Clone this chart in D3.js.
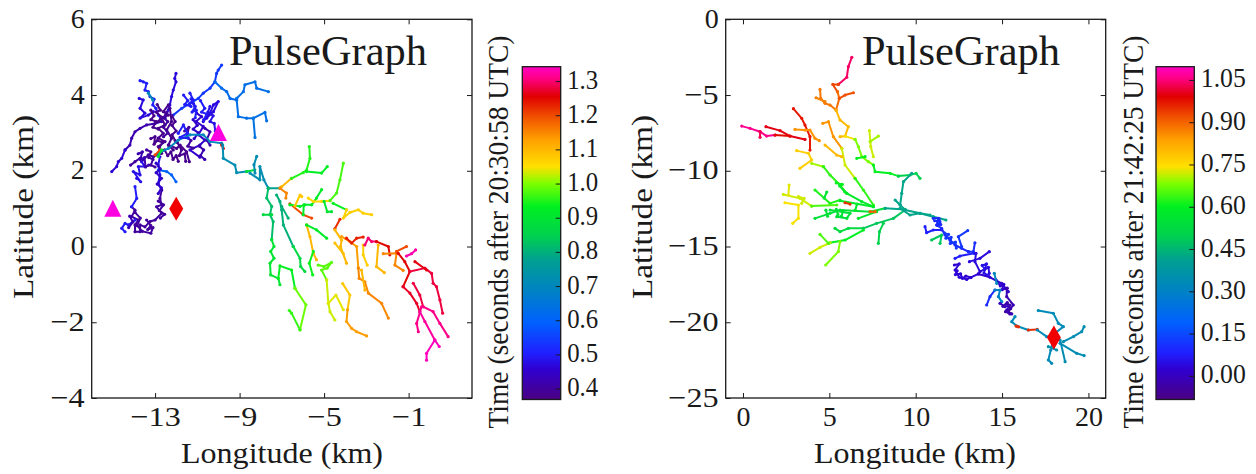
<!DOCTYPE html>
<html><head><meta charset="utf-8">
<script src="https://cdnjs.cloudflare.com/ajax/libs/d3/7.8.5/d3.min.js"></script>
<style>html,body{margin:0;padding:0;background:#fff}svg{display:block}</style></head>
<body><svg id="chart" width="1256" height="474"></svg>
<script>
// each branch: [time, lon, lat, lon, lat, ...]
const leftBranches = [
[.5,-12.69,3.34,-12.85,3.47,-12.96,3.65,-13.11,3.74,-13.05,3.89,-13.24,3.96,-13.32,4.09,-13.48,4.13,-13.40,4.31,-13.56,4.35,-13.71,4.38],
[.47,-13.75,3.91,-13.56,3.87,-13.71,3.65,-13.48,3.52,-13.71,3.39,-13.32,3.47,-13.08,3.56],
[.47,-12.53,3.39,-12.37,3.61,-12.30,3.74,-12.22,3.96,-12.14,4.13,-12.01,4.35,-12.07,4.44,-12.01,4.57],
[.42,-12.69,3.30,-13.0,3.25,-13.40,3.21,-13.71,3.12,-13.95,3.03,-14.11,2.86,-14.19,2.68,-14.42,2.55],
[.46,-14.42,2.55,-14.58,2.33,-14.74,2.24,-14.82,2.11,-15.05,1.98],
[.38,-12.37,3.74,-12.61,3.56,-12.37,3.47,-12.69,3.39,-12.53,3.21,-12.85,3.12,-12.61,2.99,-12.85,2.86,-12.53,2.77,-12.85,2.64,-12.69,2.46],
[.38,-12.30,3.65,-12.22,3.30,-12.45,3.08,-12.22,2.86,-12.37,2.68,-12.14,2.55],
[.38,-12.37,2.68,-11.98,2.59,-11.82,2.68,-11.51,2.50,-11.38,2.24],
[.4,-12.77,2.46,-13.08,2.37,-13.32,2.42,-13.56,2.29,-13.71,2.33,-13.95,2.24,-14.16,2.15],
[.48,-13.64,2.24,-13.48,2.11,-13.79,2.11,-13.71,1.89,-14.03,1.98,-13.68,1.71,-13.87,1.80],
[.48,-12.77,2.37,-12.85,2.15,-12.77,1.89,-12.85,1.67,-12.69,1.49],
[.6,-12.85,2.02,-12.45,1.98,-12.22,1.89,-12.01,1.71],
[.4,-12.69,1.49,-12.77,1.27,-12.69,1.10,-12.93,1.05,-12.69,.88,-13.0,.70,-13.24,.66,-13.48,.52,-13.71,.57,-13.71,.39,-13.95,.39,-13.95,.57,-13.79,.70,-14.11,.79,-13.95,.96,-14.11,1.05],
[.5,-14.11,1.05,-13.87,1.27,-13.95,1.58],
[.5,-13.95,.70,-14.27,.57,-14.42,.61,-14.58,.48,-14.42,.39],
[.54,-12.14,3.47,-11.74,3.65,-11.35,3.78,-10.95,3.91,-10.72,4.05,-10.4,4.18,-10.17,4.35,-10.09,4.57,-10.01,4.66,-9.85,4.79],
[.5,-11.35,4.05,-11.19,3.87,-11.35,3.78],
[.45,-11.19,3.78,-11.03,3.52,-10.80,3.43,-11.06,3.30,-10.72,3.17,-10.95,2.95,-10.64,2.81,-10.88,2.68,-11.35,2.55,-10.88,2.36],
[.47,-10.72,3.30,-10.40,3.52,-10.24,3.74,-10.01,3.83,-10.24,3.56,-10.56,3.39],
[.42,-10.64,3.12,-10.40,3.03,-10.56,2.81,-10.40,2.68],
[.38,-13.2,3.6,-13.05,3.45,-13.2,3.35,-12.95,3.3,-13.1,3.15,-12.85,3.1],
[.38,-12.9,3.75,-12.75,3.6,-12.95,3.55,-12.7,3.42,-12.85,3.3],
[.4,-12.45,3.55,-12.6,3.4,-12.4,3.3,-12.6,3.15,-12.4,3.0,-12.6,2.9],
[.38,-12.2,3.45,-12.05,3.3,-12.2,3.2,-12.0,3.05,-12.2,2.95,-12.05,2.8],
[.38,-12.8,2.6,-12.65,2.75,-12.9,2.8,-13.05,2.7,-13.0,2.9,-13.2,2.85],
[.4,-13.4,2.55,-13.2,2.5,-13.3,2.35,-13.1,2.3,-13.2,2.15,-13.0,2.1],
[.42,-13.8,2.45,-13.6,2.5,-13.7,2.3,-13.5,2.35,-13.45,2.1,-13.3,2.15],
[.38,-12.55,2.55,-12.4,2.4,-12.25,2.5,-12.15,2.3,-12.0,2.4,-11.9,2.25],
[.38,-11.95,2.75,-11.75,2.55,-11.85,2.4,-11.6,2.45,-11.55,2.25],
[.4,-11.6,3.05,-11.4,3.15,-11.5,2.9,-11.3,2.8,-11.45,2.65,-11.2,2.6],
[.45,-11.2,3.35,-11.0,3.2,-11.2,3.1,-10.95,3.0,-11.15,2.85],
[.5,-11.3,3.9,-11.1,3.7,-11.25,3.55,-11.05,3.6,-11.1,3.4],
[.5,-10.85,3.85,-10.65,3.65,-10.8,3.55,-10.55,3.5,-10.7,3.35],
[.48,-10.4,3.7,-10.5,3.55,-10.25,3.45,-10.4,3.3,-10.2,3.25,-10.15,3.05],
[.42,-10.9,2.65,-10.7,2.55,-10.85,2.4,-10.65,2.3],
[.5,-11.65,4.0,-11.45,3.85,-11.6,3.75,-11.3,3.7],
[.45,-12.95,2.2,-12.75,2.05,-12.95,1.95,-12.7,1.8,-12.9,1.65,-12.7,1.55,-12.85,1.4],
[.4,-12.85,1.2,-12.6,1.1,-12.8,.95,-12.55,.85,-12.75,.75],
[.4,-13.4,.7,-13.2,.55,-13.35,.45,-13.1,.5,-13.2,.35,-13.6,.4,-13.85,.55,-13.7,.75,-13.95,.9],
[.42,-14.2,.8,-14.05,.65,-14.25,.5],
[.7,-12.85,2.46,-12.37,2.59,-11.90,2.81,-11.35,2.95,-10.72,2.95,-10.40,2.77,-9.85,2.73],
[.72,-13.32,4.05,-13.11,3.87],
[.5,-11.9,2.99,-11.66,3.21,-11.47,2.99,-11.82,2.88,-11.43,2.86],
[1.2,-13.0,2.42,-12.77,2.55],
[.9,-12.85,2.38,-12.69,2.55],
[1.25,-9.85,2.68,-9.77,2.59],
[.62,-10.17,4.35,-9.85,4.18,-9.61,4.09,-9.45,3.91,-9.14,3.87],
[.63,-9.14,3.91,-8.82,4.09,-8.75,4.27,-8.27,4.35,-8.19,4.18,-7.64,4.09],
[.63,-9.14,3.87,-9.06,3.43,-8.67,3.39,-8.35,3.39,-7.80,3.54,-7.72,3.32],
[.64,-8.35,3.39,-8.27,2.88],
[.72,-9.80,2.68,-9.77,2.33,-9.22,2.15,-9.14,1.95,-8.67,1.98],
[.88,-8.67,1.98,-8.28,2.02],
[.72,-8.27,1.94,-8.32,2.16,-8.19,2.38],
[.72,-8.51,1.94,-8.04,1.76,-8.04,2.11,-7.85,1.76,-7.64,1.54],
[.78,-7.64,1.54,-7.09,1.54],
[1.1,-7.01,1.58,-6.54,1.80],
[.95,-6.54,1.80,-5.99,1.95,-5.83,2.02,-5.67,2.33,-5.70,2.64],
[.93,-5.83,1.98,-5.12,1.94,-4.85,2.11],
[.82,-7.64,1.54,-7.72,1.28,-7.48,1.06,-7.56,.84,-7.41,.66,-7.48,.18],
[.9,-7.48,.18,-7.37,0,-7.53,-.13,-7.37,-.31,-7.56,-.44,-7.53,-.75,-7.17,-.84,-7.09,-1.01],
[.87,-7.88,.84,-7.48,.84],
[.93,-7.17,-.84,-7.09,-.51,-6.54,-.62,-6.38,-1.10],
[.99,-6.38,-1.10,-5.86,-1.54,-6.14,-2.20],
[.96,-6.14,-2.20,-6.54,-1.76,-6.65,-1.69],
[.8,-7.25,1.36,-7.09,1.19,-7.01,.97,-6.93,.57,-6.46,0],
[.87,-6.46,0,-6.14,-.31,-6.11,-.53,-5.91,-.66],
[.8,-7.01,1.06,-6.70,.75],
[1.15,-7.09,1.54,-6.78,1.41,-6.81,1.28],
[1.2,-6.62,1.13,-5.99,.84,-5.59,.75],
[1.1,-5.83,.57,-5.67,.26,-5.51,-.18,-5.36,-.35],
[.92,-5.83,.57,-5.36,.44,-4.88,.22],
[.94,-5.51,-.13,-5.70,-.44,-5.54,-.75],
[.98,-5.28,-.49,-5.01,-.53,-4.65,-.42,-4.85,-.57,-5.12,-.62,-4.88,-.88],
[1.03,-4.88,-.88,-4.80,-1.50,-4.72,-1.72,-4.49,-1.94],
[1.04,-4.80,-1.50,-4.44,-1.28,-4.09,-1.67],
[1.08,-4.12,-.98,-3.78,-1.28,-3.89,-1.67],
[1.13,-3.89,-1.67,-3.94,-1.98,-3.70,-2.16,-3.46,-2.25,-2.99,-2.36],
[.92,-5.99,.84,-5.96,1.10,-5.59,1.10,-5.36,1.28,-5.12,1.50],
[.93,-6.62,1.1,-6.14,1.06,-5.91,1.1],
[1.08,-6.38,1.07,-6.14,1.36,-6.06,1.32],
[1.06,-5.75,1.28,-5.51,1.19,-5.12,1.19,-4.72,1.21],
[.97,-4.72,1.21,-4.41,1.41,-4.25,1.76,-4.09,2.20],
[.9,-5.0,1.19,-4.85,.92,-4.65,.92],
[.93,-4.57,1.14,-3.94,.97],
[1.07,-3.94,.97,-4.09,.75,-3.78,.90,-3.38,.97,-3.15,.88,-2.75,.84],
[1.22,-4.49,.47,-4.25,.72],
[1.1,-4.49,.44,-4.17,.17,-4.22,0,-3.94,-.44],
[1.09,-4.49,.09,-4.09,-.19],
[1.13,-4.17,.26,-3.78,.13,-3.46,0,-3.38,-.57],
[1.15,-3.38,-.57,-3.34,-.84,-3.07,-.93,-2.91,-1.23,-2.28,-1.50,-1.96,-1.89],
[1.1,-3.23,-.62,-3.07,-1.15],
[1.07,-3.15,.04,-3.15,-.22,-2.96,-.49],
[1.23,-3.94,.22,-3.70,.09,-3.46,.22,-3.15,.25],
[1.3,-3.07,.04,-2.91,.22,-2.75,.13,-2.52,.13],
[1.25,-2.52,.13,-1.96,0,-1.89,-.22],
[1.1,-2.44,.04,-2.52,-.53,-2.15,-.69],
[1.15,-2.20,-.19,-1.57,-.18,-1.65,-.49,-1.26,-.63],
[1.2,-1.57,-.13,-1.10,0],
[1.25,-1.49,-.18,-1.18,-.40,-.94,-.66,-1.26,-1.06],
[1.27,-1.26,-1.06,-.94,-1.23,-.62,-1.50,-.47,-1.72],
[1.28,-.94,-.66,-.23,-.57,.09,-.71,.16,-.97,.32,-1.06,.48,-1.41,.61,-1.76],
[1.26,-.70,-.40,-.15,-.62],
[1.33,-1.10,-.25,-.86,-.19,-.67,-.09],
[1.28,-.78,-.97,-.47,-1.28,-.31,-1.59],
[1.31,-.31,-1.59,.16,-1.72,.48,-2.03,.87,-2.38],
[1.31,-.39,-1.59,-.62,-2.03,-.54,-2.25],
[1.32,-.47,-1.72,-.23,-1.98,.24,-2.47],
[1.34,.24,-2.47,-.15,-2.82,-.15,-3.0],
[1.34,.24,-2.47,.45,-2.64]
];
const rightBranches = [
[1.04,6.30,-2.51,6.10,-3.13,6.01,-3.83,5.52,-4.30],
[.93,5.52,-4.30,5.20,-4.30,5.47,-4.78],
[.89,5.47,-4.78,5.58,-5.22,5.39,-5.99],
[.92,5.58,-5.22,5.91,-5.0,6.39,-4.85],
[.88,4.46,-4.63,4.50,-5.22,4.75,-5.55,5.04,-5.66,5.39,-5.99],
[.87,4.23,-5.18,4.75,-5.44],
[.8,5.39,-5.99,5.62,-6.65,6.10,-7.09,5.91,-7.71,5.62,-7.75],
[.74,5.91,-7.71,6.49,-7.93],
[.68,6.49,-7.93,6.68,-8.41,6.88,-9.07,7.26,-9.40,7.55,-9.62],
[.6,6.59,-9.18,7.07,-9.07],
[.6,7.55,-9.62,7.65,-10.06,8.52,-10.17,9.0,-10.35],
[.72,7.32,-7.35,7.40,-8.41,7.55,-9.07],
[.7,7.84,-7.71,7.36,-8.08],
[.5,9.0,-10.35,9.67,-10.28,10.02,-10.17,10.25,-10.5],
[.42,9.77,-10.17,9.29,-10.72,9.19,-11.49,9.10,-12.26],
[.97,2.92,-5.90,3.40,-6.54,3.59,-6.98,3.88,-7.75,3.88,-8.63],
[.85,3.01,-7.27,3.59,-7.31,3.88,-7.31,4.17,-7.86,4.42,-8.01],
[1.06,-.07,-7.05,.41,-7.2,.99,-7.42,1.37,-7.71,1.86,-7.64],
[1.03,.99,-7.79,.99,-7.42],
[1.0,1.33,-7.09,2.15,-7.35,2.72,-7.71,3.59,-7.93],
[.98,1.86,-7.64,2.72,-7.71],
[.77,3.11,-8.67,3.79,-8.85,3.98,-9.29,3.30,-9.84],
[.7,3.98,-9.51,4.66,-9.73],
[.63,4.66,-9.73,5.04,-10.28,5.62,-10.94,6.01,-11.49],
[.58,6.01,-11.49,6.88,-12.04,7.55,-12.37],
[.85,4.62,-6.87,4.95,-6.76,5.23,-7.75,5.72,-8.52],
[.72,5.72,-8.52,5.91,-9.62,6.49,-10.50],
[.63,6.49,-10.50,6.97,-11.27,7.55,-12.26],
[.8,4.75,-8.30,5.43,-8.96,5.72,-9.07],
[.62,4.17,-11.27,5.04,-12.15,5.62,-11.93],
[.58,5.62,-11.98,7.55,-12.37],
[.72,2.34,-11.56,3.30,-11.82,3.98,-12.33],
[.65,3.98,-12.33,5.43,-12.26],
[.73,2.67,-10.94,2.63,-11.60],
[.74,2.43,-12.11,3.21,-12.26,3.21,-13.14,2.88,-13.47],
[.72,3.21,-11.71,3.54,-11.82,3.40,-12.15],
[.55,4.17,-13.14,5.04,-12.81,5.62,-12.59,7.36,-12.70,8.23,-12.48],
[.55,5.04,-12.59,6.20,-12.81,6.01,-13.14,5.43,-13.03],
[.55,4.8,-12.6,4.9,-13.0],[.55,5.4,-12.55,5.5,-12.9],[.58,6.5,-12.6,6.6,-12.2],[.55,5.8,-12.65,5.7,-13.0],[.56,4.7,-11.8,4.85,-11.4],[.58,5.9,-11.4,5.6,-11.0],[.6,5.75,-10.9,5.4,-10.8],
[.57,6.68,-13.14,7.74,-12.70],
[.53,5.33,-13.80,5.62,-14.02,6.10,-13.80,6.97,-13.80],
[.48,6.97,-13.80,7.74,-13.47,8.71,-13.14,9.39,-12.59],
[.6,6.97,-13.91,5.91,-14.57,5.04,-14.75],
[.72,5.04,-14.75,4.46,-15.06,3.88,-15.45],
[.65,4.46,-14.20,4.95,-14.79],
[.68,5.62,-14.68,5.52,-15.34,4.79,-16.22],
[.5,7.84,-14.79,7.90,-14.02,8.13,-13.47],
[.42,8.23,-12.48,9.39,-12.55],
[.42,8.81,-11.93,9.10,-12.26,9.39,-12.59,10.25,-12.81,10.83,-12.92],
[.95,5.91,-12.11,6.20,-12.20],
[.9,7.36,-12.70,7.65,-12.70],
[.42,9.09,-12.48,9.67,-12.92,10.25,-12.81,11.02,-13.03,11.75,-13.25],
[.1,11.02,-13.14,11.31,-13.14,11.21,-13.58,11.50,-13.80,11.70,-14.24,11.99,-14.57],
[.1,11.99,-14.57,12.28,-14.90,12.66,-15.12,13.05,-15.34],
[.1,11.1,-13.3,11.4,-13.35,11.25,-13.6,11.45,-13.55,11.35,-13.15],
[.12,11.65,-14.1,11.9,-14.2,11.75,-14.45,12.05,-14.4,12.0,-14.8,12.3,-14.7,12.35,-15.1],
[.08,10.54,-13.69,10.63,-14.09,11.02,-13.91,11.50,-13.91],
[.48,10.92,-14.57,11.50,-14.24,11.41,-14.79],
[.12,13.01,-13.95,12.47,-14.35,12.66,-15.01],
[.1,13.43,-14.75,13.34,-15.34,13.05,-15.34],
[.08,12.28,-15.78,12.56,-15.63,13.38,-15.45],
[.04,13.11,-16.0,13.72,-15.78,14.26,-15.34],
[.04,13.49,-15.45,13.43,-16.0,13.72,-16.66,14.21,-16.37,14.26,-16.77],
[.03,12.24,-16.22,12.52,-16.15,12.28,-16.55,12.52,-17.03,12.95,-17.17,13.63,-16.81],
[.03,12.4,-16.6,12.3,-16.85,12.6,-16.8,12.7,-17.1,12.9,-16.95,13.2,-17.05],
[.02,13.63,-16.81,14.30,-17.03,14.98,-17.43,15.36,-17.98],
[.05,14.0,-16.5,13.85,-16.25,14.1,-16.15,13.95,-16.75,14.2,-16.9],
[.02,14.65,-17.2,14.9,-17.6,15.1,-17.5,15.0,-17.85,15.3,-17.75],
[.32,14.55,-16.77,14.69,-17.43],
[.1,14.11,-18.86,14.30,-18.31,14.59,-17.87],
[.3,14.59,-17.87,14.88,-17.87,14.79,-18.31,14.98,-18.64],
[-.02,15.27,-17.76,15.27,-18.31,15.65,-18.86,15.36,-19.30,15.56,-19.45],
[0,14.88,-18.75,15.17,-18.97,15.46,-18.86,15.27,-19.19],
[-.03,15.05,-18.95,15.3,-18.7,15.5,-19.1,15.2,-19.3,15.45,-19.45],
[.33,15.75,-19.63,15.56,-19.96,15.85,-20.25,16.52,-20.51],
[.95,16.52,-20.51,17.04,-20.47],
[.95,15.81,-20.25,15.95,-20.3],
[.33,17.04,-20.51,17.58,-20.95,17.97,-21.06],
[.33,17.97,-21.06,17.82,-21.83,17.68,-22.49,17.87,-22.71],
[.33,17.10,-19.23,17.97,-19.41,18.26,-20.07,18.55,-20.29,18.07,-20.73],
[.34,18.36,-21.17,18.65,-22.60],
[.34,18.36,-21.39,19.32,-22.05,19.75,-22.2],
[.34,18.55,-21.28,19.13,-20.95,19.61,-20.62,19.75,-20.29],
[.35,17.68,-21.61,18.16,-21.83]
];
const leftTriangles = [[-15,1],[-10,3]];
const leftDiamonds = [[-12,1]];
const rightDiamonds = [[18,-21]];
const leftXTicks = [-13,-9,-5,-1], leftYTicks = [6,4,2,0,-2,-4];
const rightXTicks = [0,5,10,15,20], rightYTicks = [0,-5,-10,-15,-20,-25];
const leftBarTicks = [.4,.5,.6,.7,.8,.9,1,1.1,1.2,1.3];
const rightBarTicks = [0,.15,.3,.45,.6,.75,.9,1.05];
const mapPos = [0,.09,.14,.23,.32,.42,.49,.58,.65,.70,.78,.85,.91,.97,1];
const mapCol = ['#4b0082','#3000d0','#2020ff','#0060ff','#0080c8','#00a090','#00d050','#00f020','#80ff00','#ffe000','#ffa000','#f05000','#e00000','#ff0090','#ff00c0'];

const svg = d3.select('#chart');
const FONT = '"Liberation Serif",serif', INK = '#1a1a1a';
const cmap = d3.scaleLinear().domain(mapPos).range(mapCol).interpolate(d3.interpolateRgb);
function fit(sel, target){ sel.each(function(){ const l=this.getComputedTextLength();
  this.setAttribute('textLength', target===undefined? l : target); this.setAttribute('lengthAdjust','spacingAndGlyphs'); }); }
function tickFit(sel){ sel.each(function(){ const s=this.textContent, l=this.getComputedTextLength();
  if(s.startsWith('\u2212')){ this.setAttribute('textLength', l*1.15); this.setAttribute('lengthAdjust','spacingAndGlyphs'); } }); }
const fmt = v => (v<0?'\u2212':'')+Math.abs(v);

function panel(o){
  const x = d3.scaleLinear().domain(o.xDom).range([o.x0,o.x1]);
  const y = d3.scaleLinear().domain(o.yDom).range([o.y1,o.y0]);
  const tm = d3.scaleLinear().domain(o.barDom).range([0,1]);
  const g = svg.append('g');
  const line = d3.line().x(d=>x(d[0])).y(d=>y(d[1]));
  o.branches.forEach(b=>{
    const pts = d3.range(1,b.length,2).map(i=>[b[i],b[i+1]]);
    const c = cmap(tm(b[0]));
    g.append('path').attr('d',line(pts)).attr('fill','none').attr('stroke',c).attr('stroke-width',2).attr('stroke-linejoin','round').attr('stroke-linecap','round');
    g.selectAll(null).data(pts).enter().append('circle').attr('cx',d=>x(d[0])).attr('cy',d=>y(d[1])).attr('r',1.6).attr('fill',c);
  });
  (o.triangles||[]).forEach(p=>g.append('path').attr('transform',`translate(${x(p[0])},${y(p[1])})`).attr('d','M0,-9L8.5,8L-8.5,8Z').attr('fill','#ff00e0'));
  o.diamonds.forEach(p=>g.append('path').attr('transform',`translate(${x(p[0])},${y(p[1])})`).attr('d','M0,-12L7,0L0,12L-7,0Z').attr('fill','#f00000'));
  const ax = (gen,tx,ty)=>{ const a=svg.append('g').attr('transform',`translate(${tx},${ty})`).call(gen);
    a.select('.domain').remove(); a.selectAll('line').attr('stroke',INK).attr('stroke-width',1);
    a.selectAll('text').attr('font-family',FONT).attr('font-size',28).attr('fill',INK); return a; };
  const b=ax(d3.axisBottom(x).tickValues(o.xTicks).tickSize(-5).tickFormat(fmt),0,o.y1);
  b.selectAll('text').attr('y',28).attr('dy',0).call(tickFit);
  ax(d3.axisTop(x).tickValues(o.xTicks).tickSize(-5).tickFormat(''),0,o.y0);
  const l=ax(d3.axisLeft(y).tickValues(o.yTicks).tickSize(-5).tickFormat(fmt),o.x0,0);
  l.selectAll('text').attr('x',-7).attr('dy',8).call(tickFit);
  ax(d3.axisRight(y).tickValues(o.yTicks).tickSize(-5).tickFormat(''),o.x1,0);
  svg.append('rect').attr('x',o.x0).attr('y',o.y0).attr('width',o.x1-o.x0).attr('height',o.y1-o.y0).attr('fill','none').attr('stroke',INK).attr('stroke-width',1.3);
  const T=(s,tx,ty,size,len,rot)=>{ const t=svg.append('text').attr('font-family',FONT).attr('font-size',size).attr('fill',INK).attr('text-anchor',rot?'middle':'start')
    .attr('transform',`translate(${tx},${ty})`+(rot?' rotate(-90)':'')).text(s); fit(t,len); return t; };
  T('PulseGraph',o.titleX,65,42,198);
  T('Longitude (km)',o.xLabelX,463,29,202);
  T('Latitude (km)',o.yLabelX,207,29,184,true);
  const id='grad'+Math.round(o.x0); const gr=svg.append('defs').append('linearGradient').attr('id',id).attr('x1',0).attr('y1',1).attr('x2',0).attr('y2',0);
  mapPos.forEach((p,i)=>gr.append('stop').attr('offset',p).attr('stop-color',mapCol[i]));
  svg.append('rect').attr('x',o.bx0).attr('y',o.by0).attr('width',o.bx1-o.bx0).attr('height',o.by1-o.by0).attr('fill',`url(#${id})`);
  const by=d3.scaleLinear().domain(o.barDom).range([o.by1,o.by0]);
  const bAx=svg.append('g').attr('transform',`translate(${o.bx1},0)`).call(d3.axisRight(by).tickValues(o.barTicks).tickSize(-5).tickFormat(d3.format(o.barFmt)));
  bAx.select('.domain').remove(); bAx.selectAll('line').attr('stroke',INK).attr('stroke-width',1);
  bAx.selectAll('text').attr('x',6.5).attr('dy',7).attr('font-family',FONT).attr('font-size',27).attr('fill',INK).call(fit,o.barLabelLen);
  svg.append('rect').attr('x',o.bx0).attr('y',o.by0).attr('width',o.bx1-o.bx0).attr('height',o.by1-o.by0).attr('fill','none').attr('stroke',INK).attr('stroke-width',1.3);
  T(o.barLabel,o.barLabelX,232,29,393,true);
}
panel({branches:leftBranches,triangles:leftTriangles,diamonds:leftDiamonds,xDom:[-16,2],yDom:[-4,6],x0:91.7,x1:472,y0:19.3,y1:398,
  xTicks:leftXTicks,yTicks:leftYTicks,titleX:229,xLabelX:181,yLabelX:33,
  barDom:[.368,1.342],bx0:522.3,bx1:560.7,by0:66.7,by1:399.5,barTicks:leftBarTicks,barFmt:'.1f',barLabelLen:31,barLabel:'Time (seconds after 20:30:58 UTC)',barLabelX:508});
panel({branches:rightBranches,diamonds:rightDiamonds,xDom:[-1,21],yDom:[-25,0],x0:725.7,x1:1105.7,y0:19.3,y1:398,
  xTicks:rightXTicks,yTicks:rightYTicks,titleX:862,xLabelX:814,yLabelX:652,
  barDom:[-.084,1.097],bx0:1156,bx1:1194.3,by0:66.7,by1:399.5,barTicks:rightBarTicks,barFmt:'.2f',barLabelLen:45,barLabel:'Time (seconds after 21:42:25 UTC)',barLabelX:1143});
</script></body></html>
